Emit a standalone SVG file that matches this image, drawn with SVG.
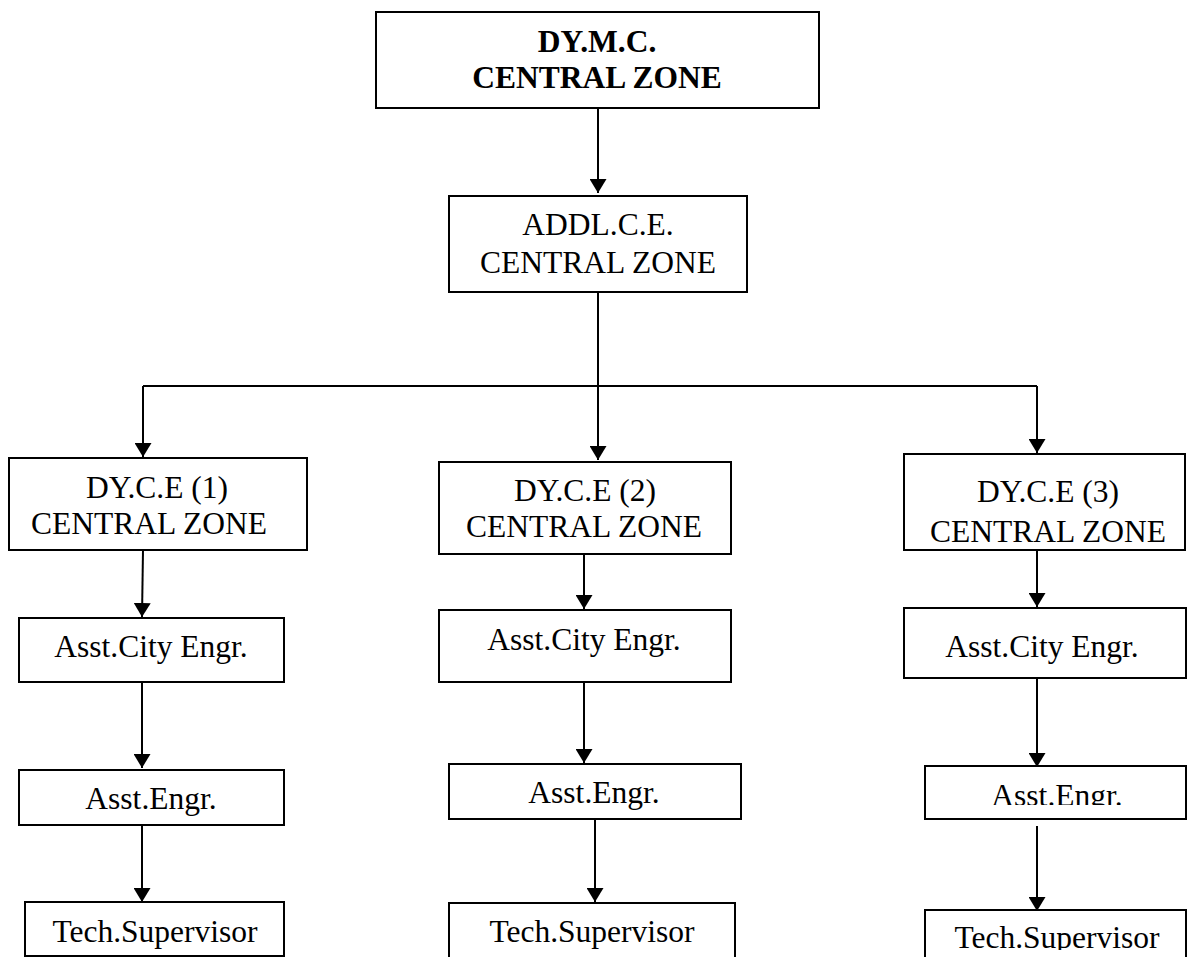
<svg xmlns="http://www.w3.org/2000/svg" width="1187" height="957" viewBox="0 0 1187 957">
<style>
.box{fill:#fff;stroke:#000;stroke-width:2}
.t{font-family:'Liberation Serif','Tinos','Times New Roman','Nimbus Roman','DejaVu Serif',serif;font-size:31.5px;fill:#000;text-anchor:middle}
.b{font-weight:bold}
.c{fill:none;stroke:#000;stroke-width:2}
</style>
<defs>
<marker id="ah" markerUnits="userSpaceOnUse" markerWidth="15" markerHeight="17" refX="14" refY="8.5" orient="auto">
<path d="M0,0 L14,8.5 L0,17 z" fill="#000"/>
</marker>
<clipPath id="clipAe3"><rect x="900" y="760" width="287" height="45"/></clipPath>
<clipPath id="clipTs3"><rect x="900" y="905" width="287" height="45"/></clipPath>
</defs>
<rect width="1187" height="957" fill="#fff"/>
<g id="connectors">
<path class="c" d="M598,108 V193" marker-end="url(#ah)"/>
<path class="c" d="M598,292 V386 M143,386 H1037"/>
<path class="c" d="M143,386 V457" marker-end="url(#ah)"/>
<path class="c" d="M598,386 V460" marker-end="url(#ah)"/>
<path class="c" d="M1037,386 V453" marker-end="url(#ah)"/>
<path class="c" d="M143,550 L142,617" marker-end="url(#ah)"/>
<path class="c" d="M142,682 V768" marker-end="url(#ah)"/>
<path class="c" d="M142,825 V902" marker-end="url(#ah)"/>
<path class="c" d="M584,554 V609" marker-end="url(#ah)"/>
<path class="c" d="M584,682 V763" marker-end="url(#ah)"/>
<path class="c" d="M595,819 V902" marker-end="url(#ah)"/>
<path class="c" d="M1037,550 V607" marker-end="url(#ah)"/>
<path class="c" d="M1037,678 V767" marker-end="url(#ah)"/>
<path class="c" d="M1037,826 V911" marker-end="url(#ah)"/>
</g>
<g id="dymc">
<rect class="box" x="376" y="12" width="443" height="96"/>
<text class="t b" x="597" y="52">DY.M.C.</text>
<text class="t b" x="597" y="88">CENTRAL ZONE</text>
</g>
<g id="addlce">
<rect class="box" x="449" y="196" width="298" height="96"/>
<text class="t" x="598" y="235">ADDL.C.E.</text>
<text class="t" x="598" y="273">CENTRAL ZONE</text>
</g>
<g id="dyce1">
<rect class="box" x="9" y="458" width="298" height="92"/>
<text class="t" x="157" y="498">DY.C.E (1)</text>
<text class="t" x="149" y="534">CENTRAL ZONE</text>
</g>
<g id="dyce2">
<rect class="box" x="439" y="462" width="292" height="92"/>
<text class="t" x="585" y="501">DY.C.E (2)</text>
<text class="t" x="584" y="537">CENTRAL ZONE</text>
</g>
<g id="dyce3">
<rect class="box" x="904" y="454" width="281" height="96"/>
<text class="t" x="1048" y="502">DY.C.E (3)</text>
<text class="t" x="1048" y="542">CENTRAL ZONE</text>
</g>
<g id="ace1">
<rect class="box" x="19" y="618" width="265" height="64"/>
<text class="t" x="151" y="657">Asst.City Engr.</text>
</g>
<g id="ace2">
<rect class="box" x="439" y="610" width="292" height="72"/>
<text class="t" x="584" y="650">Asst.City Engr.</text>
</g>
<g id="ace3">
<rect class="box" x="904" y="608" width="282" height="70"/>
<text class="t" x="1042" y="657">Asst.City Engr.</text>
</g>
<g id="ae1">
<rect class="box" x="19" y="770" width="265" height="55"/>
<text class="t" x="151" y="809">Asst.Engr.</text>
</g>
<g id="ae2">
<rect class="box" x="449" y="764" width="292" height="55"/>
<text class="t" x="594" y="803">Asst.Engr.</text>
</g>
<g id="ae3">
<rect class="box" x="925" y="766" width="261" height="53"/>
<text class="t" x="1057" y="806" clip-path="url(#clipAe3)">Asst.Engr.</text>
</g>
<g id="ts1">
<rect class="box" x="25" y="902" width="259" height="54"/>
<text class="t" x="155" y="942">Tech.Supervisor</text>
</g>
<g id="ts2">
<rect class="box" x="449" y="903" width="286" height="60"/>
<text class="t" x="592" y="942">Tech.Supervisor</text>
</g>
<g id="ts3">
<rect class="box" x="925" y="910" width="261" height="60"/>
<text class="t" x="1057" y="948" clip-path="url(#clipTs3)">Tech.Supervisor</text>
</g>
</svg>
